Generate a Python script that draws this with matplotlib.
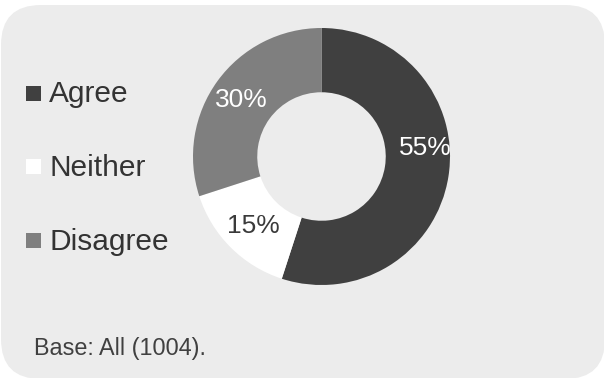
import matplotlib
matplotlib.use("Agg")
import matplotlib.pyplot as plt
from matplotlib.patches import FancyBboxPatch, Rectangle

plt.rcParams['font.family'] = ['Liberation Sans', 'DejaVu Sans']

# Survey responses
categories = ["Agree", "Neither", "Disagree"]
shares = [55, 15, 30]
colors = ["#404040", "#ffffff", "#7f7f7f"]
label_colors = ["#ffffff", "#3a3a3a", "#ffffff"]
base_note = "Base: All (1004)."

W, H = 604, 378
fig = plt.figure(figsize=(W / 100, H / 100), dpi=100)
fig.patch.set_facecolor("white")

# Background panel in pixel coordinates
bg = fig.add_axes([0, 0, 1, 1])
bg.set_xlim(0, W)
bg.set_ylim(H, 0)
bg.axis("off")
bg.add_patch(FancyBboxPatch((1, 5), 604, 374,
                            boxstyle="round,pad=0,rounding_size=40",
                            facecolor="#ececec", edgecolor="none"))

# Legend: square swatches with labels
legend_y = [93, 166.5, 240.5]
for cat, col, y in zip(categories, colors, legend_y):
    bg.add_patch(Rectangle((26, y - 7.5), 15, 15, facecolor=col, edgecolor="none"))
    bg.text(49, y + 1, cat, fontsize=21.5, color="#333333", va="center", ha="left")

bg.text(34, 349, base_note, fontsize=16.8, color="#404040", va="center", ha="left")

# Donut chart
cx, cy, r = 321.5, 156.5, 128.5
ax = fig.add_axes([(cx - r) / W, (H - cy - r) / H, 2 * r / W, 2 * r / H])
ax.set_xlim(-1, 1)
ax.set_ylim(-1, 1)
ax.axis("off")
ax.pie(shares, colors=colors, startangle=90, counterclock=False, radius=1,
       wedgeprops=dict(width=0.5, edgecolor="none"))
ax.set_xlim(-1, 1)
ax.set_ylim(-1, 1)
ax.set_aspect("equal")

label_pos = [(0.805, 0.066), (-0.533, -0.537), (-0.62, 0.44)]
for val, (lx, ly), tc in zip(shares, label_pos, label_colors):
    ax.text(lx, ly, f"{val}%", fontsize=19, color=tc, ha="center", va="center")

fig.savefig("out.png", dpi=100, facecolor=fig.get_facecolor())
